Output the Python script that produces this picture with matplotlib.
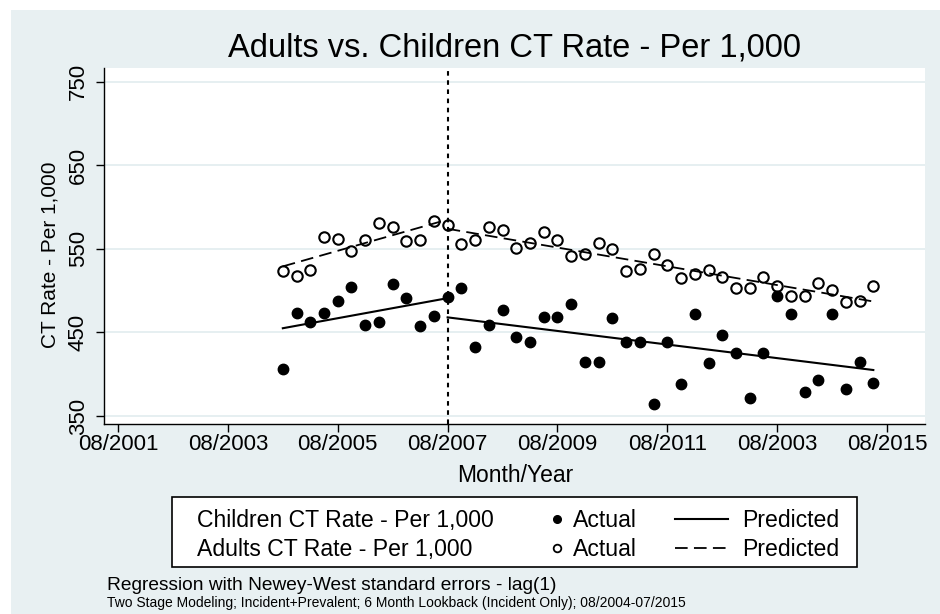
import numpy as np
import pandas as pd
import matplotlib
matplotlib.use('Agg')
import matplotlib.pyplot as plt
from matplotlib.patches import Rectangle

plt.rcParams['font.family'] = 'Liberation Sans'

# quarterly observations, 08/2004 - 05/2015
dates = pd.date_range('2004-08-01', periods=44, freq='3MS')
adults = [523, 517, 525, 564, 562, 548, 560, 581, 576, 559, 560, 583,
          578, 556, 561, 576, 573, 551, 557, 570, 560, 541, 544, 557,
          550, 524, 526, 544, 531, 515, 520, 525, 516, 503, 503, 516,
          506, 494, 494, 509, 501, 486, 488, 506]
children = [406, 473, 462, 473, 488, 504, 459, 463, 508, 491, 458, 470,
            492, 503, 432, 459, 477, 444, 438, 468, 468, 484, 414, 414,
            467, 438, 438, 364, 439, 388, 472, 413, 447, 425, 371, 425,
            494, 472, 379, 393, 472, 382, 415, 389]

# segmented regression fits (start/end of each segment)
split = 12  # 08/2007
children_pre = [455, 491]
children_post = [468, 405]
adults_pre = [529, 585]
adults_post = [574, 487]

xtick_pos = pd.to_datetime(['2001-08-01', '2003-08-01', '2005-08-01', '2007-08-01',
                            '2009-08-01', '2011-08-01', '2013-08-01', '2015-08-01'])
xtick_labels = ['08/2001', '08/2003', '08/2005', '08/2007',
                '08/2009', '08/2011', '08/2003', '08/2015']
ytick_vals = [350, 450, 550, 650, 750]


def to_year(d):
    d = pd.DatetimeIndex(d)
    return d.year + (d.month - 1) / 12.0


x = to_year(dates)
BG = '#E8F0F2'

fig = plt.figure(figsize=(9.4, 6.14), dpi=100)
bg = fig.add_axes([0, 0, 1, 1])
bg.set_xlim(0, 940)
bg.set_ylim(614, 0)
bg.axis('off')
bg.add_patch(Rectangle((11, 10), 929, 604, color=BG, lw=0))

ax = fig.add_axes([104/940, 1 - 424/614, 821/940, 356/614])
ax.set_facecolor('white')
ax.set_xlim(2001.328, 2016.274)
ax.set_ylim(340.4, 766.4)
for s in ['top', 'right']:
    ax.spines[s].set_visible(False)
for s in ['left', 'bottom']:
    ax.spines[s].set_linewidth(1.0)
ax.yaxis.grid(True, color='#E4EEF0', lw=1.3)
ax.set_axisbelow(True)

ax.set_xticks(to_year(xtick_pos))
ax.set_xticklabels(xtick_labels)
ax.set_yticks(ytick_vals)
ax.set_yticklabels([str(v) for v in ytick_vals], rotation=90, va='center')
ax.tick_params(axis='both', length=5.8, width=1, labelsize=16)
ax.tick_params(axis='x', pad=1.5)
ax.tick_params(axis='y', pad=5)

# intervention line
ax.axvline(x[split], color='black', lw=1.5, ls=(0, (2.2, 2.2)))

# predicted lines
ax.plot([x[0], x[split]], children_pre, color='black', lw=1.5)
ax.plot([x[split], x[-1]], children_post, color='black', lw=1.5)
ax.plot([x[0], x[split]], adults_pre, color='black', lw=1.3, ls=(0, (7, 3.5)))
ax.plot([x[split], x[-1]], adults_post, color='black', lw=1.3, ls=(0, (7, 3.5)))

# actual values
ax.plot(x, adults, 'o', ms=7.5, mfc='none', mec='black', mew=1.5)
ax.plot(x, children, 'o', ms=7.5, mfc='black', mec='black')

# titles
bg.text(515, 48, 'Adults vs. Children CT Rate - Per 1,000', ha='center', va='center', fontsize=23.5)
bg.text(515, 475, 'Month/Year', ha='center', va='center', fontsize=16.5)
bg.text(50, 255, 'CT Rate - Per 1,000', ha='center', va='center', rotation=90, fontsize=15)

# legend
bg.add_patch(Rectangle((172, 497), 685, 70, facecolor='white', edgecolor='black', lw=1.2))
for yy, name in [(518, 'Children CT Rate - Per 1,000'), (547, 'Adults CT Rate - Per 1,000')]:
    bg.text(197, yy, name, ha='left', va='center_baseline', fontsize=16.6)
    bg.text(573, yy, 'Actual', ha='left', va='center_baseline', fontsize=16.6)
    bg.text(742, yy, 'Predicted', ha='left', va='center_baseline', fontsize=16.6)
bg.plot([557], [519], 'o', ms=5.5, mfc='black', mec='black')
bg.plot([557], [548], 'o', ms=5.5, mfc='none', mec='black', mew=1.3)
bg.plot([675, 728], [519, 519], color='black', lw=1.5)
bg.plot([675, 728], [548, 548], color='black', lw=1.3, ls=(0, (7, 3.5)))

# notes
bg.text(107, 585, 'Regression with Newey-West standard errors - lag(1)', ha='left', va='center', fontsize=13.8)
bg.text(107, 603, 'Two Stage Modeling; Incident+Prevalent; 6 Month Lookback (Incident Only); 08/2004-07/2015',
        ha='left', va='center', fontsize=10)

plt.savefig('out.png', dpi=100)
